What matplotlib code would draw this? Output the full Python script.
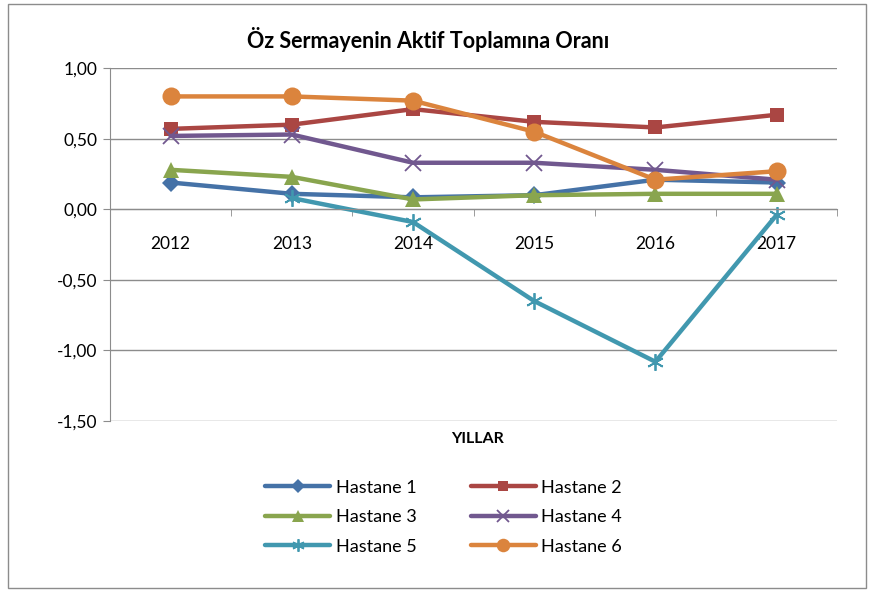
import numpy as np
import matplotlib
matplotlib.use('Agg')
import matplotlib.pyplot as plt
from matplotlib.patches import Rectangle
from matplotlib.ticker import FixedLocator, FuncFormatter

plt.rcParams['font.family'] = ['Lato', 'DejaVu Sans']

years = ['2012', '2013', '2014', '2015', '2016', '2017']
hastane1 = [0.19, 0.11, 0.085, 0.10, 0.21, 0.19]
hastane2 = [0.57, 0.60, 0.71, 0.62, 0.58, 0.67]
hastane3 = [0.28, 0.23, 0.07, 0.10, 0.11, 0.11]
hastane4 = [0.52, 0.53, 0.33, 0.33, 0.28, 0.21]
hastane5 = [np.nan, 0.08, -0.09, -0.65, -1.08, -0.04]
hastane6 = [0.80, 0.80, 0.77, 0.55, 0.21, 0.27]

series = [
    ('Hastane 1', hastane1, '#4572A7', 'D', 9),
    ('Hastane 2', hastane2, '#AA4643', 's', 10),
    ('Hastane 3', hastane3, '#89A54E', '^', 11),
    ('Hastane 4', hastane4, '#71588F', 'x', 11),
    ('Hastane 5', hastane5, '#4198AF', '*', 12),
    ('Hastane 6', hastane6, '#DB843D', 'o', 13),
]

fig = plt.figure(figsize=(8.73, 5.93), dpi=100)
ax = fig.add_axes([0.126, 0.290, 0.833, 0.595])

x = np.arange(len(years))
handles = []
for name, vals, color, mk, ms in series:
    if mk in ('x', '*'):
        # thin star / cross markers like Excel
        line, = ax.plot(x, vals, color=color, lw=3.2, solid_capstyle='round',
                        marker='x' if mk == 'x' else (6, 2, 0), markersize=ms,
                        markeredgewidth=1.3, label=name)
    else:
        line, = ax.plot(x, vals, color=color, lw=3.2, solid_capstyle='round',
                        marker=mk, markersize=ms, markeredgewidth=0, label=name)
    handles.append(line)

ax.set_xlim(-0.5, 5.5)
ax.set_ylim(-1.5, 1.0)
ax.yaxis.set_major_locator(FixedLocator([-1.5, -1.0, -0.5, 0.0, 0.5, 1.0]))
ax.yaxis.set_major_formatter(FuncFormatter(lambda v, p: f'{v:.2f}'.replace('.', ',')))
ax.grid(axis='y', color='#8c8c8c', lw=1.0)
ax.set_axisbelow(True)

for s in ['top', 'right']:
    ax.spines[s].set_visible(False)
ax.spines['left'].set_color('#8c8c8c')
ax.spines['bottom'].set_position(('data', 0))
ax.spines['bottom'].set_color('#8c8c8c')

ax.set_xticks(x)
ax.set_xticklabels(years)
ax.set_xticks(np.arange(-0.5, 6.0, 1.0), minor=True)
ax.tick_params(axis='x', which='major', length=0, pad=19, labelsize=12.5)
ax.tick_params(axis='x', which='minor', length=5, color='#8c8c8c', direction='out')
ax.tick_params(axis='y', length=5, color='#8c8c8c', labelsize=12.5, pad=4)

fig.text(0.49, 0.933, 'Öz Sermayenin Aktif Toplamına Oranı', ha='center', va='center',
         fontsize=15.5, fontweight='bold')
fig.text(0.547, 0.259, 'YILLAR', ha='center', va='center', fontsize=11.5, fontweight='bold')

# row-major order as in the reference legend
order = [0, 2, 4, 1, 3, 5]
fig.legend([handles[i] for i in order], [series[i][0] for i in order],
           loc='center', bbox_to_anchor=(0.508, 0.128), ncol=2, frameon=False,
           fontsize=13, handlelength=3.6, columnspacing=3.0, labelspacing=0.75,
           handletextpad=0.3, markerscale=0.75)

fig.add_artist(Rectangle((0.009, 0.008), 0.983, 0.985, transform=fig.transFigure,
                         fill=False, edgecolor='#8c8c8c', lw=1.0))

fig.savefig('out.png', dpi=100)
